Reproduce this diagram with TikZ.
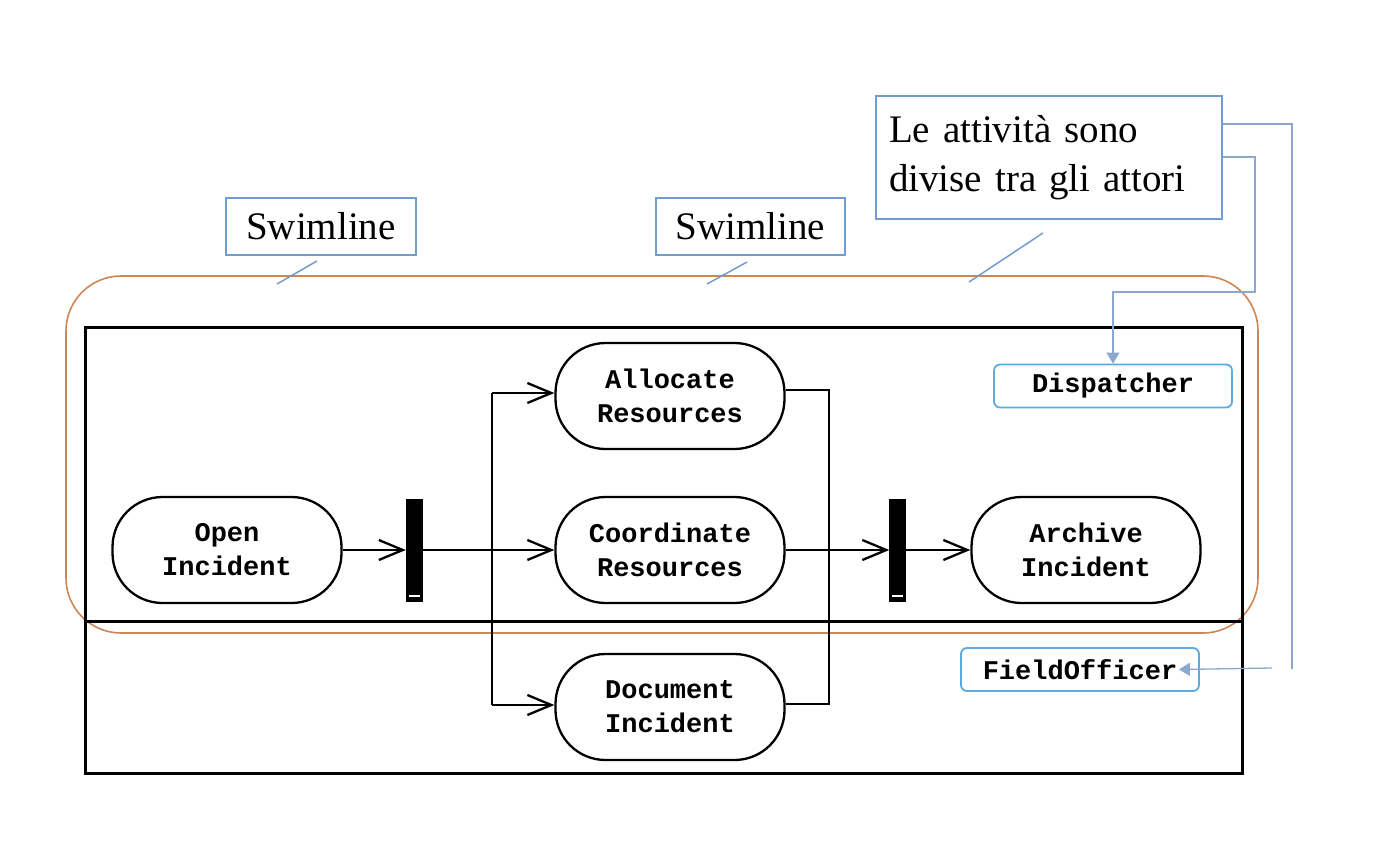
\documentclass[tikz,border=0pt]{standalone}
\usepackage{fontspec}
\setmainfont{Liberation Serif}
\setmonofont{Liberation Mono}
\usetikzlibrary{arrows.meta}
\definecolor{callblue}{RGB}{112,156,210}
\definecolor{connblue}{RGB}{140,168,205}
\definecolor{labelblue}{RGB}{91,170,228}
\definecolor{laneorange}{RGB}{206,134,84}
\begin{document}
\begin{tikzpicture}[x=1bp,y=-1bp,
  act/.style={draw, line width=2.3bp, rounded corners=50bp, minimum width=229bp,
    minimum height=106bp, align=center, inner sep=0pt,
    font=\fontsize{27bp}{34bp}\selectfont\ttfamily\bfseries},
  forkbar/.style={fill=black, draw=black, minimum width=16bp, minimum height=102bp, inner sep=0pt},
  flow/.style={line width=2.3bp, -{Straight Barb[length=24bp,width=20bp]}},
  plainflow/.style={line width=2.3bp},
  callout/.style={draw=callblue, line width=1.5bp, inner sep=0pt,
    font=\fontsize{39bp}{49bp}\selectfont},
  pointer/.style={draw=callblue, line width=1.5bp},
  actor/.style={draw=labelblue, line width=1.8bp, rounded corners=6bp, inner sep=0pt,
    minimum width=238bp, minimum height=43bp,
    font=\fontsize{27bp}{34bp}\selectfont\ttfamily\bfseries},
  conn/.style={draw=connblue, line width=1.3bp},
  connarrow/.style={conn, -{Triangle[length=11bp,width=13bp]}}
]
\path[use as bounding box] (0,0) rectangle (1378,854);

% orange swimlane highlight
\draw[laneorange, line width=1.6bp, rounded corners=55bp] (66,276) rectangle (1258,633);

% swimlanes
\draw[line width=3bp] (85,327) rectangle (1242,773);
\draw[line width=3bp] (85,621) -- (1242,621);

% activities
\node[act] (open) at (227,550) {Open\\Incident};
\node[act] (alloc) at (670,396) {Allocate\\Resources};
\node[act] (coord) at (670,550) {Coordinate\\Resources};
\node[act] (docu) at (670,707) {Document\\Incident};
\node[act] (arch) at (1086,550) {Archive\\Incident};

% fork / join bars
\node[forkbar] (bar1) at (414,550) {};
\node[forkbar] (bar2) at (897.5,550) {};
\draw[white, line width=2bp] (408.5,596) -- (419.5,596);
\draw[white, line width=2bp] (892,596) -- (903,596);

% flows
\draw[flow] (open.east) -- (bar1.west);
\draw[flow] (bar1.east) -- (coord.west);
\coordinate (forkT) at (492,393);
\coordinate (forkB) at (492,705);
\draw[plainflow] (forkT) -- (forkB);
\draw[flow] (forkT) -- (forkT -| alloc.west);
\draw[flow] (forkB) -- (forkB -| docu.west);
\coordinate (joinT) at (829,390);
\coordinate (joinB) at (829,704);
\draw[plainflow] (joinT -| alloc.east) -- (joinT) -- (joinB) -- (joinB -| docu.east);
\draw[flow] (coord.east) -- (bar2.west);
\draw[flow] (bar2.east) -- (arch.west);

% actor labels
\node[actor] (disp) at (1113,386) {Dispatcher};
\node[actor] (field) at (1080,669.5) {FieldOfficer};

% callouts
\node[callout, minimum width=190bp, minimum height=57bp] (sw1) at (321,226.5) {Swimline};
\node[callout, minimum width=189bp, minimum height=57bp] (sw2) at (750.5,226.5) {Swimline};
\node[callout, minimum width=346bp, minimum height=123bp, text width=320bp, align=left] (note) at (1049,157.5)
  {Le attività sono\\divise tra gli attori};
\draw[pointer] (317,261) -- (277,284);
\draw[pointer] (747,262) -- (707,284);
\draw[pointer] (1043,233) -- (969,282);

% callout connectors
\draw[conn] (note.east |- 0,124) -- (1292,124) -- (1292,669);
\coordinate (fieldIn) at (1272,668);
\draw[connarrow] (fieldIn) -- ([xshift=-21bp]field.east);
\draw[connarrow] (note.east |- 0,157) -- (1255,157) -- (1255,292) -- (1113,292) -- (disp.north);
\end{tikzpicture}
\end{document}
